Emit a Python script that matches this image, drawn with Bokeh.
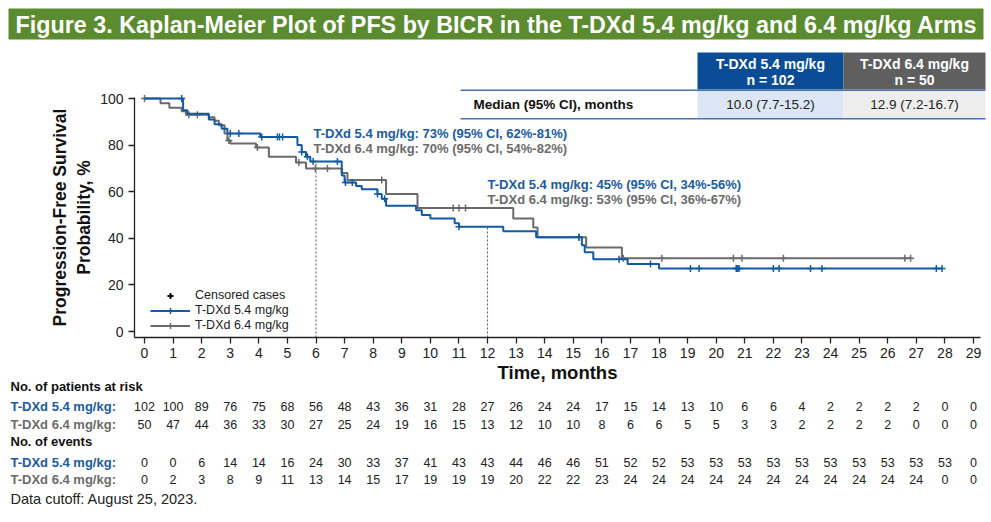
import numpy as np
from bokeh.plotting import figure
from bokeh.core.properties import value
from bokeh.models import (ColumnDataSource, Label, LabelSet, BoxAnnotation, Legend,
                          LegendItem, FixedTicker, Range1d)
from bokeh.embed import file_html
from bokeh.resources import INLINE

# ---------------- data ----------------
months = list(range(0, 30))

# T-DXd 5.4 mg/kg (blue) Kaplan-Meier steps
blue_t = [0, 1.35, 1.5, 2.25, 2.45, 2.7, 2.9, 4.05, 5.35, 5.5, 5.65, 5.8, 6.9, 7.0, 7.4,
          7.6, 8.15, 8.3, 8.45, 9.5, 9.7, 10.0, 10.85, 11.0, 12.55, 13.7, 15.3, 15.4,
          15.7, 16.9, 18.0]
blue_s = [100, 95, 93.5, 91, 89, 87, 85, 83.5, 80, 77, 75, 73, 67, 64, 62.5,
          61, 59, 57, 54, 52, 50, 48.5, 46.5, 45, 43, 40.5, 37, 34,
          31, 29, 27]
blue_end = 27.9
blue_cens = [1.3, 3.0, 3.3, 4.1, 4.65, 4.72, 4.83, 5.5, 5.7, 5.9, 6.75, 7.03, 7.27, 8.15,
             8.4, 11.0, 15.2, 16.6, 17.7, 19.1, 19.4, 20.7, 20.75, 20.8, 22.0, 22.2,
             23.3, 23.7, 27.7, 27.9]

# T-DXd 6.4 mg/kg (gray) Kaplan-Meier steps
gray_t = [0, 0.56, 0.87, 1.3, 1.45, 2.25, 2.45, 2.6, 2.8, 2.9, 3.0, 3.9, 4.35, 5.3,
          5.65, 6.9, 7.1, 8.45, 9.55, 12.9, 13.6, 13.75, 15.45, 16.7]
gray_s = [100, 98, 96, 94.5, 93, 92, 90.5, 88.5, 85, 82, 80.7, 79, 75, 72.5,
          70, 68, 65, 59, 53, 48.5, 44.6, 40.5, 36, 31.4]
gray_end = 26.8
gray_cens = [0.0, 1.55, 1.85, 2.95, 3.95, 5.4, 5.98, 6.4, 8.3, 10.8, 11.0, 11.23, 15.2,
             16.75, 18.1, 20.6, 20.9, 22.35, 26.6, 26.8]

# landmark estimates
landmark_t = [6, 12]
landmark_blue = [73, 45]

risk_blue = [102, 100, 89, 76, 75, 68, 56, 48, 43, 36, 31, 28, 27, 26, 24, 24, 17, 15,
             14, 13, 10, 6, 6, 4, 2, 2, 2, 2, 0, 0]
risk_gray = [50, 47, 44, 36, 33, 30, 27, 25, 24, 19, 16, 15, 13, 12, 10, 10, 8, 6,
             6, 5, 5, 3, 3, 2, 2, 2, 2, 0, 0, 0]
events_blue = [0, 0, 6, 14, 14, 16, 24, 30, 33, 37, 41, 43, 43, 44, 46, 46, 51, 52,
               52, 53, 53, 53, 53, 53, 53, 53, 53, 53, 53, 0]
events_gray = [0, 2, 3, 8, 9, 11, 13, 14, 15, 17, 19, 19, 19, 20, 22, 22, 23, 24,
               24, 24, 24, 24, 24, 24, 24, 24, 24, 24, 0, 0]

y_ticks = [0, 20, 40, 60, 80, 100]

BLUE = "#125aa3"
BLUE_TXT = "#1a5ba0"
GRAY = "#6a6a6a"
GRAY_TXT = "#6b6b6b"
INK = "#222222"
FONT = "Liberation Sans"
W, H = 991, 522

# page geometry of the KM panel (pixels)
PPM = 28.586          # pixels per month
PPP = 2.33            # pixels per percentage point
T0_PX, S0_PX = 144, 331   # where month 0 and 0 % sit on the page
AX_LEFT_PX, AX_BOTTOM_PX = 134, 337


def surv_at(tt, t, s):
    idx = np.searchsorted(np.array(t), np.array(tt), side="right") - 1
    return list(np.array(s)[idx])


x_lo = -T0_PX / PPM
x_hi = (W - T0_PX) / PPM
y_lo = (S0_PX - H) / PPP
y_hi = S0_PX / PPP
x_axis_at = (S0_PX - AX_BOTTOM_PX) / PPP     # data y of the x-axis line
y_axis_at = (AX_LEFT_PX - T0_PX) / PPM       # data x of the y-axis line

p = figure(width=W, height=H, x_range=Range1d(x_lo, x_hi), y_range=Range1d(y_lo, y_hi),
           output_backend="svg", toolbar_location=None, min_border=0, title=None)
p.outline_line_color = None
p.grid.visible = False

for ax in (p.xaxis, p.yaxis):
    ax.axis_line_color = INK
    ax.axis_line_width = 1.3
    ax.major_tick_line_color = INK
    ax.major_tick_line_width = 1.3
    ax.major_tick_in = 0
    ax.major_tick_out = 6
    ax.minor_tick_line_color = None
    ax.major_label_text_font = FONT
    ax.major_label_text_font_size = "14px"
    ax.major_label_text_color = INK
    ax.axis_label_text_font = FONT
    ax.axis_label_text_font_style = "bold"
    ax.axis_label_text_color = "#111111"

p.xaxis.fixed_location = x_axis_at
p.yaxis.fixed_location = y_axis_at
p.xaxis.ticker = FixedTicker(ticks=months)
p.yaxis.ticker = FixedTicker(ticks=y_ticks)
p.xaxis.bounds = (y_axis_at, 29.24)
p.yaxis.bounds = (x_axis_at, 100.45)
p.xaxis.axis_label = "Time, months"
p.xaxis.axis_label_text_font_size = "18.5px"
p.xaxis.axis_label_standoff = 1
p.xaxis.major_label_standoff = 4
p.yaxis.axis_label = "Progression-Free Survival\nProbability, %"
p.yaxis.axis_label_text_font_size = "17.5px"
p.yaxis.axis_label_standoff = 3


def sbox(l, r, t, b, color):
    """box given in page pixels (top-left origin)"""
    p.add_layout(BoxAnnotation(left=l, right=r, top=H - t, bottom=H - b,
                               left_units="screen", right_units="screen",
                               top_units="screen", bottom_units="screen",
                               fill_color=color, fill_alpha=1, line_color=None,
                               level="underlay"))


def slabel(x, y, text, size="13px", style="normal", color=INK, align="left"):
    """label given in page pixels (top-left origin)"""
    p.add_layout(Label(x=x, y=H - y, x_units="screen", y_units="screen", text=text,
                       text_font=FONT, text_font_size=size, text_font_style=style,
                       text_color=color, text_align=align, text_baseline="middle"))


# title banner
sbox(8, 983, 8, 39, "#5b8b2f")
slabel(496, 24, "Figure 3. Kaplan-Meier Plot of PFS by BICR in the T-DXd 5.4 mg/kg and 6.4 mg/kg Arms",
       size="23.3px", style="bold", color="white", align="center")

# median table
sbox(697, 843, 52, 89, "#0b4c96")
sbox(843, 985, 52, 89, "#5f5f5f")
sbox(697, 843, 90.5, 117.5, "#dde6f4")
sbox(843, 985, 90.5, 117.5, "#ededed")
sbox(460, 985, 89, 90.5, "#4673ae")
sbox(460, 985, 117.5, 119, "#4673ae")
slabel(770, 63, "T-DXd 5.4 mg/kg", size="14px", style="bold", color="white", align="center")
slabel(770, 79, "n = 102", size="14px", style="bold", color="white", align="center")
slabel(914, 63, "T-DXd 6.4 mg/kg", size="14px", style="bold", color="white", align="center")
slabel(914, 79, "n = 50", size="14px", style="bold", color="white", align="center")
slabel(473, 104, "Median (95% CI), months", size="13.5px", style="bold", color="#111111")
slabel(770, 104, "10.0 (7.7-15.2)", size="13.5px", align="center")
slabel(914, 104, "12.9 (7.2-16.7)", size="13.5px", align="center")

# landmark dotted lines
p.segment(x0=landmark_t, y0=[x_axis_at] * len(landmark_t), x1=landmark_t,
          y1=landmark_blue, line_color="#555555", line_width=1, line_dash="2 2")

# curves
gx = gray_t + [gray_end]
gy = gray_s + [gray_s[-1]]
bx = blue_t + [blue_end]
by = blue_s + [blue_s[-1]]
gray_line = p.step(gx, gy, mode="after", line_color=GRAY, line_width=2)
gray_c = p.scatter(gray_cens, surv_at(gray_cens, gray_t, gray_s), marker="cross",
                   size=7, line_color=GRAY, line_width=1.5)
blue_line = p.step(bx, by, mode="after", line_color=BLUE, line_width=2)
blue_c = p.scatter(blue_cens, surv_at(blue_cens, blue_t, blue_s), marker="cross",
                   size=7, line_color=BLUE, line_width=1.5)
# legend-only glyph for the generic "censored" key (NaN point is never drawn)
cens_key = p.scatter(x=[np.nan], y=[np.nan], marker="cross", size=8,
                     line_color="black", line_width=1.8)

legend = Legend(items=[
    LegendItem(label="Censored cases", renderers=[cens_key]),
    LegendItem(label="T-DXd 5.4 mg/kg", renderers=[blue_line, blue_c]),
    LegendItem(label="T-DXd 6.4 mg/kg", renderers=[gray_line, gray_c]),
], location=(150, H - 332.5), padding=0, margin=0, spacing=0, glyph_width=40,
    glyph_height=15, label_height=14, label_standoff=5, label_text_font=FONT,
    label_text_font_size="12.5px", label_text_color=INK,
    background_fill_alpha=0, border_line_alpha=0)
p.add_layout(legend, "center")

# landmark annotations (data coordinates)
for (lx, ly, txt, col) in [
        (5.91, 85.0, "T-DXd 5.4 mg/kg: 73% (95% CI, 62%-81%)", BLUE_TXT),
        (5.91, 78.5, "T-DXd 6.4 mg/kg: 70% (95% CI, 54%-82%)", GRAY_TXT),
        (12.0, 63.1, "T-DXd 5.4 mg/kg: 45% (95% CI, 34%-56%)", BLUE_TXT),
        (12.0, 56.7, "T-DXd 6.4 mg/kg: 53% (95% CI, 36%-67%)", GRAY_TXT)]:
    p.add_layout(Label(x=lx, y=ly, text=txt, text_font=FONT, text_font_size="13px",
                       text_font_style="bold", text_color=col, text_baseline="middle"))

# risk table
slabel(10, 386, "No. of patients at risk", size="13px", style="bold", color="#111111")
slabel(10, 406, "T-DXd 5.4 mg/kg:", size="13px", style="bold", color=BLUE_TXT)
slabel(10, 424, "T-DXd 6.4 mg/kg:", size="13px", style="bold", color=GRAY_TXT)
slabel(10, 441, "No. of events", size="13px", style="bold", color="#111111")
slabel(10, 462, "T-DXd 5.4 mg/kg:", size="13px", style="bold", color=BLUE_TXT)
slabel(10, 479, "T-DXd 6.4 mg/kg:", size="13px", style="bold", color=GRAY_TXT)
slabel(10, 498, "Data cutoff: August 25, 2023.", size="14.5px", color=INK)

for vals, ypage in ((risk_blue, 406), (risk_gray, 424), (events_blue, 462), (events_gray, 479)):
    src = ColumnDataSource(dict(x=months, y=[H - ypage] * len(months),
                                t=[str(v) for v in vals]))
    p.add_layout(LabelSet(x="x", y="y", text="t", source=src, x_units="data",
                          y_units="screen", text_font=value(FONT),
                          text_font_size=value("12.5px"), text_color=INK,
                          text_align="center", text_baseline="middle"))

open("out.html", "w").write(file_html(p, INLINE))
